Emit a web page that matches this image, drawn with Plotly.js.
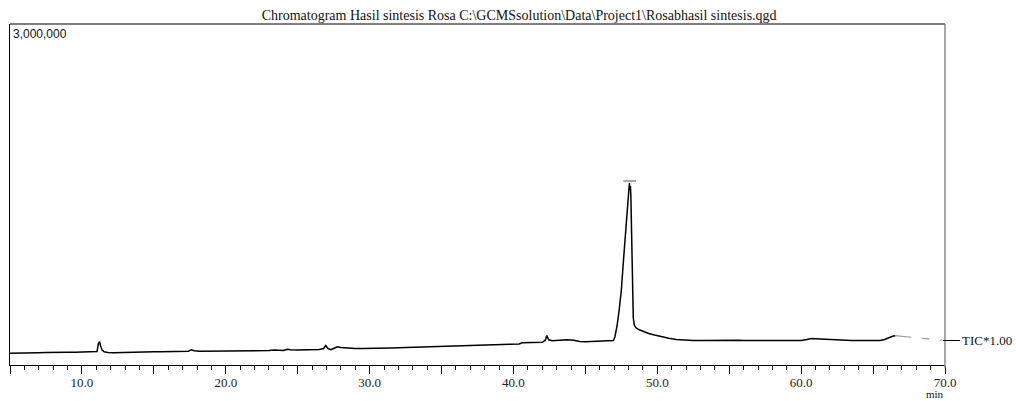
<!DOCTYPE html>
<html>
<head>
<meta charset="utf-8">
<script src="https://cdn.plot.ly/plotly-3.0.1.min.js"></script>
<style>html,body{margin:0;padding:0;background:#fff;}#chart{width:1016px;height:401px;}</style>
</head>
<body>
<div id="chart"></div>
<script>
// Retention time (min)
var timeMin = [
 5.0,5.5,6.0,6.5,7.0,7.5,8.0,8.5,9.0,9.5,10.0,10.5,10.9,11.05,11.15,11.22,11.3,11.4,11.55,11.8,
 12.2,12.6,13.0,13.5,14.0,14.5,15.0,15.5,16.0,16.5,17.0,17.4,17.6,17.8,18.2,18.8,19.4,20.0,20.6,21.2,
 21.8,22.4,23.0,23.4,23.6,24.0,24.3,24.5,25.0,25.5,26.0,26.5,26.8,26.95,27.1,27.3,27.5,27.75,28.0,28.5,
 29.0,29.5,30.0,30.5,31.0,31.5,32.0,32.5,33.0,33.5,34.0,34.5,35.0,35.5,36.0,36.5,37.0,37.5,38.0,38.5,
 39.0,39.5,40.0,40.4,40.6,41.0,41.5,42.0,42.2,42.32,42.45,42.7,43.2,43.7,44.2,44.6,45.0,45.5,46.0,46.5,
 46.9,46.95,47.05,47.2,47.35,47.5,47.65,47.8,47.93,48.02,48.06,48.1,48.13,48.16,48.22,48.28,48.33,48.4,48.5,48.7,
 49.0,49.4,49.8,50.3,50.8,51.3,51.8,52.5,53.0,53.5,54.0,54.5,55.0,55.3,55.6,56.0,56.5,57.0,57.5,58.0,
 58.5,59.0,59.5,60.0,60.4,60.7,61.0,61.3,61.6,62.0,62.5,63.0,63.5,64.0,64.5,65.0,65.5,65.8,66.1,66.4,66.55
];
// TIC intensity (counts)
var ticCounts = [
 102900,105600,103800,106500,107300,109100,108200,110900,111700,112600,113500,114400,114400,118800,189200,206800,167200,132000,116100,110000,
 108200,110000,110900,112600,114400,115300,116100,116100,117900,117900,119700,121400,133700,124900,121400,121400,123200,123200,123200,124100,
 124900,125800,127600,131100,128500,127600,138100,133700,132800,132800,134600,135500,145200,171600,145200,133700,145200,160100,154000,147800,
 145200,144300,144300,146000,147800,149600,151300,153100,154800,157500,158400,160100,160100,163600,167200,168900,172400,171600,174200,176800,
 180400,182100,183900,185600,195300,195300,197100,199700,215600,259500,221700,212900,217300,221700,218200,205900,205000,206800,207600,208500,
 211200,215600,246300,343100,483900,659900,923800,1170100,1407700,1574800,1601200,1539700,1574800,1495700,1099800,659900,413500,351900,329900,312300,
 294700,277100,263900,248100,234900,224300,218200,215600,214700,216400,215600,217300,221700,223500,218200,216400,215600,215600,214700,214700,
 214700,213800,214700,216400,224300,232300,230500,228700,223500,218200,216400,215600,214700,214700,213800,213800,215600,224300,241900,255100,257800
];
// Extension of the trace to the TIC label (dashed, grey)
var extTime = [66.55, 67.7, 69.0, 70.0];
var extCounts = [257800, 243700, 226100, 215600];
// Detected peak marks
var peakTimes = [48.08];
var peakMarkCounts = [1619000];

var tickVals = [5,10,15,20,25,30,35,40,45,50,55,60,65,70];
var tickText = ['','10.0','','20.0','','30.0','','40.0','','50.0','','60.0','','70.0'];
var yMax = 3000000;
var yTopLabel = '3,000,000';
var traceLabel = 'TIC*1.00';
var xUnit = 'min';
var chartTitle = 'Chromatogram Hasil sintesis Rosa C:\\GCMSsolution\\Data\\Project1\\Rosabhasil sintesis.qgd';

var serif = 'Liberation Serif, Times New Roman, serif';

var traces = [
  {x: timeMin, y: ticCounts, type: 'scatter', mode: 'lines',
   line: {color: '#000', width: 1.5}, hoverinfo: 'skip'},
  {x: extTime, y: extCounts, type: 'scatter', mode: 'lines',
   line: {color: '#9a9a9a', width: 1.2, dash: '16px,11px,7px,11px'}, hoverinfo: 'skip'},
  {x: peakTimes, y: peakMarkCounts, type: 'scatter', mode: 'markers',
   marker: {symbol: 'line-ew', size: 9, line: {color: '#a0a8b8', width: 2}}, hoverinfo: 'skip'}
];

var labelY = (extCounts[extCounts.length-1]) / yMax;

var layout = {
  width: 1016, height: 401,
  margin: {l: 10, r: 71, t: 24, b: 36, pad: 0},
  paper_bgcolor: '#fff', plot_bgcolor: '#fff',
  showlegend: false,
  title: {text: chartTitle, font: {family: serif, size: 14, color: '#111'},
          xref: 'container', yref: 'container', x: 0.511, xanchor: 'center', y: 1 - 15/401, yanchor: 'middle'},
  xaxis: {range: [5, 70], tickmode: 'array', tickvals: tickVals, ticktext: tickText,
          ticks: 'outside', ticklen: 8, tickwidth: 1, tickcolor: '#000', ticklabelstandoff: -3,
          minor: {dtick: 1, tick0: 5, ticks: 'outside', ticklen: 4, tickwidth: 1, tickcolor: '#000', showgrid: false},
          showline: true, linecolor: '#000', linewidth: 1, showgrid: false, zeroline: false,
          tickfont: {family: serif, size: 13, color: '#222'}, fixedrange: true},
  yaxis: {range: [0, yMax], showticklabels: false, ticks: '', showgrid: false, zeroline: false,
          showline: true, linecolor: '#000', linewidth: 1, fixedrange: true},
  shapes: [
    {type: 'line', xref: 'paper', yref: 'paper', x0: 0, x1: 1, y0: 1, y1: 1, line: {color: '#000', width: 1}},
    {type: 'line', xref: 'paper', yref: 'paper', x0: 1, x1: 1, y0: -0.01, y1: 1, line: {color: '#8a8a8a', width: 1.5}},
    {type: 'line', xref: 'paper', yref: 'paper', x0: 0.9979, x1: 1.0160, y0: labelY, y1: labelY, line: {color: '#000', width: 1}}
  ],
  annotations: [
    {text: yTopLabel, xref: 'paper', yref: 'paper', x: 0, y: 1, xanchor: 'left', yanchor: 'top',
     xshift: 1, yshift: -1, showarrow: false, font: {family: 'Liberation Sans, Arial, sans-serif', size: 12, color: '#111'}},
    {text: traceLabel, xref: 'paper', yref: 'paper', x: 1.0163, y: labelY, xanchor: 'left', yanchor: 'middle',
     showarrow: false, font: {family: serif, size: 13, color: '#111'}},
    {text: xUnit, xref: 'paper', yref: 'paper', x: 0.9893, y: -0.086, xanchor: 'center', yanchor: 'middle',
     showarrow: false, font: {family: serif, size: 11, color: '#111'}}
  ]
};

Plotly.newPlot('chart', traces, layout, {staticPlot: true, displayModeBar: false});
</script>
</body>
</html>
